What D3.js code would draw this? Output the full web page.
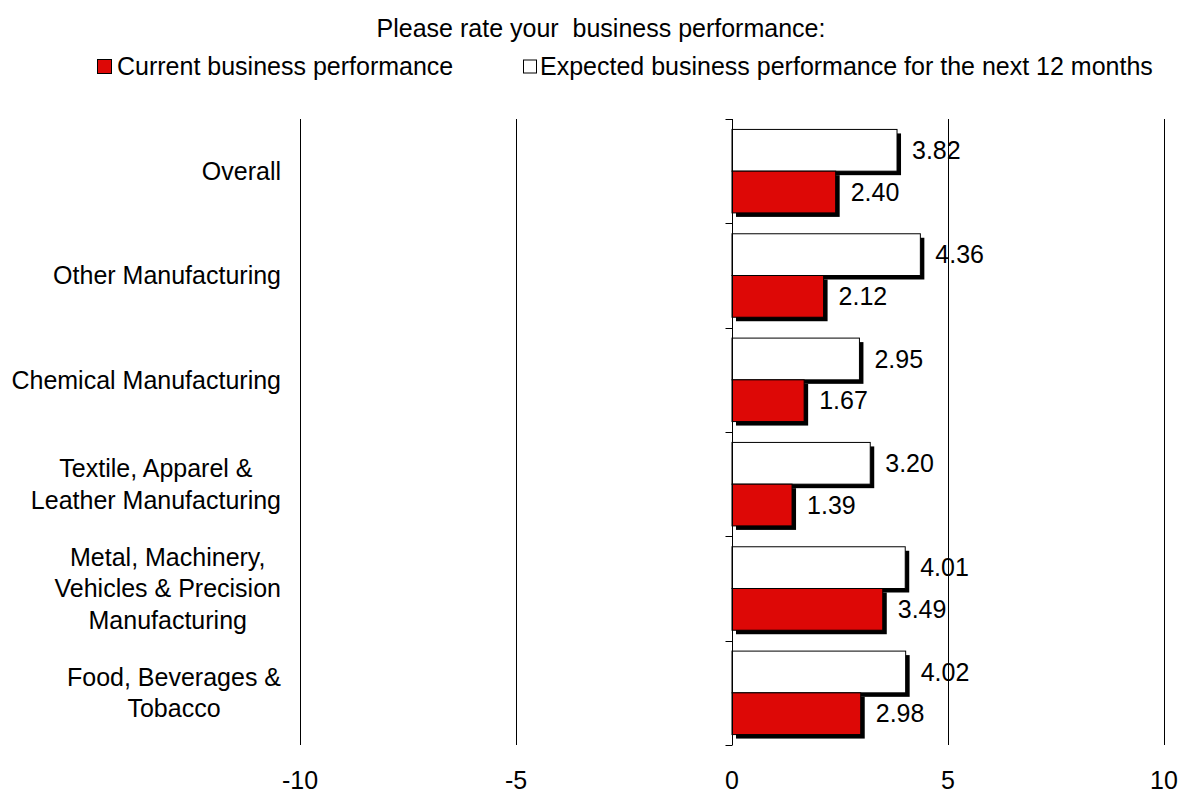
<!DOCTYPE html>
<html>
<head>
<meta charset="utf-8">
<script src="https://cdn.jsdelivr.net/npm/d3@7"></script>
<style>
  html, body { margin: 0; padding: 0; background: #ffffff; }
  svg { display: block; font-family: "Liberation Sans", Arial, sans-serif; }
</style>
</head>
<body>
<svg id="chart" width="1181" height="794"></svg>
<script>
// Sector names (top to bottom), with manual line breaks
const categories = [
  "Overall",
  "Other Manufacturing",
  "Chemical Manufacturing",
  "Textile, Apparel &\nLeather Manufacturing",
  "Metal, Machinery,\nVehicles & Precision\nManufacturing",
  "Food, Beverages &\nTobacco"
];
// Current business performance
const currentValues = [2.40, 2.12, 1.67, 1.39, 3.49, 2.98];
// Expected business performance for the next 12 months
const expectedValues = [3.82, 4.36, 2.95, 3.20, 4.01, 4.02];
const seriesNames = ["Current business performance", "Expected business performance for the next 12 months"];
const xTicks = [-10, -5, 0, 5, 10];
const titleText = "Please rate your  business performance:";

const svg = d3.select("#chart");
const FONT = 25;
const RED = "#dd0806";

const x = d3.scaleLinear().domain([-10, 10]).range([300, 1164]);
const y = d3.scaleBand().domain(categories).range([119, 745]).padding(0);
const sub = d3.scaleBand().domain(["expected", "current"]).range([0, y.bandwidth()]).paddingOuter(0.25).paddingInner(0);

// Title
svg.append("text")
  .attr("x", 601).attr("y", 37)
  .attr("text-anchor", "middle")
  .attr("font-size", FONT)
  .attr("fill", "#000")
  .style("white-space", "pre")
  .text(titleText);

// Legend
const legend = svg.append("g");
const legendItems = [
  { name: seriesNames[0], fill: RED, x: 97, size: 14, gap: 20 },
  { name: seriesNames[1], fill: "#ffffff", x: 523, size: 13, gap: 17 }
];
legendItems.forEach(d => {
  legend.append("rect")
    .attr("x", d.x + 0.5).attr("y", 66.5 - d.size / 2)
    .attr("width", d.size).attr("height", d.size)
    .attr("fill", d.fill).attr("stroke", "#000").attr("stroke-width", 1);
  legend.append("text")
    .attr("x", d.x + d.gap).attr("y", 75)
    .attr("font-size", FONT).attr("fill", "#000")
    .text(d.name);
});

// Vertical gridlines
svg.append("g").selectAll("line")
  .data(xTicks.filter(t => t !== 0))
  .join("line")
  .attr("x1", d => Math.round(x(d)) + 0.5).attr("x2", d => Math.round(x(d)) + 0.5)
  .attr("y1", 119).attr("y2", 745)
  .attr("stroke", "#000").attr("stroke-width", 1);

// X tick labels
svg.append("g").selectAll("text")
  .data(xTicks)
  .join("text")
  .attr("x", d => x(d)).attr("y", 789)
  .attr("text-anchor", "middle")
  .attr("font-size", FONT).attr("fill", "#000")
  .text(d => d);

// Bars
const rows = categories.map((c, i) => ({ cat: c, current: currentValues[i], expected: expectedValues[i] }));
const SH = 4;
const barsG = svg.append("g");
rows.forEach(r => {
  const g = barsG.append("g").attr("transform", `translate(0,${y(r.cat)})`);
  [["expected", "#ffffff"], ["current", RED]].forEach(([key, fill]) => {
    const v = r[key];
    const x0 = x(0), x1 = x(v);
    const by = sub(key);
    g.append("rect")
      .attr("x", x0 + SH).attr("y", by + SH)
      .attr("width", x1 - x0).attr("height", sub.bandwidth())
      .attr("fill", "#000");
    g.append("rect")
      .attr("x", x0).attr("y", by)
      .attr("width", x1 - x0).attr("height", sub.bandwidth())
      .attr("fill", fill).attr("stroke", "#000").attr("stroke-width", 1);
    g.append("text")
      .attr("x", x1 + 15).attr("y", by + sub.bandwidth() / 2)
      .attr("dy", "0.35em")
      .attr("font-size", FONT).attr("fill", "#000")
      .text(v.toFixed(2));
  });
});

// Category axis at zero
const axisG = svg.append("g").attr("transform", `translate(${Math.round(x(0)) + 0.5},0)`);
axisG.append("line").attr("y1", 119).attr("y2", 745).attr("stroke", "#000");
const bounds = categories.map(c => y(c)).concat([745]);
axisG.selectAll("line.tick").data(bounds).join("line")
  .attr("class", "tick")
  .attr("x1", -7).attr("x2", 0)
  .attr("y1", d => Math.round(d) + 0.5).attr("y2", d => Math.round(d) + 0.5)
  .attr("stroke", "#000");

// Category labels: block right-aligned, lines centred within the block
const labelsG = svg.append("g");
const LH = 31.5;
categories.forEach(c => {
  const lines = c.split("\n");
  const t = labelsG.append("text").attr("font-size", FONT).attr("fill", "#000").attr("text-anchor", "middle");
  const spans = lines.map(ln => t.append("tspan").text(ln));
  const maxW = d3.max(spans, s => s.node().getComputedTextLength());
  const cx = 281 - maxW / 2;
  const cy = y(c) + y.bandwidth() / 2;
  spans.forEach((s, i) => {
    s.attr("x", cx).attr("y", cy + (i - (lines.length - 1) / 2) * LH).attr("dy", "0.35em");
  });
});
</script>
</body>
</html>
